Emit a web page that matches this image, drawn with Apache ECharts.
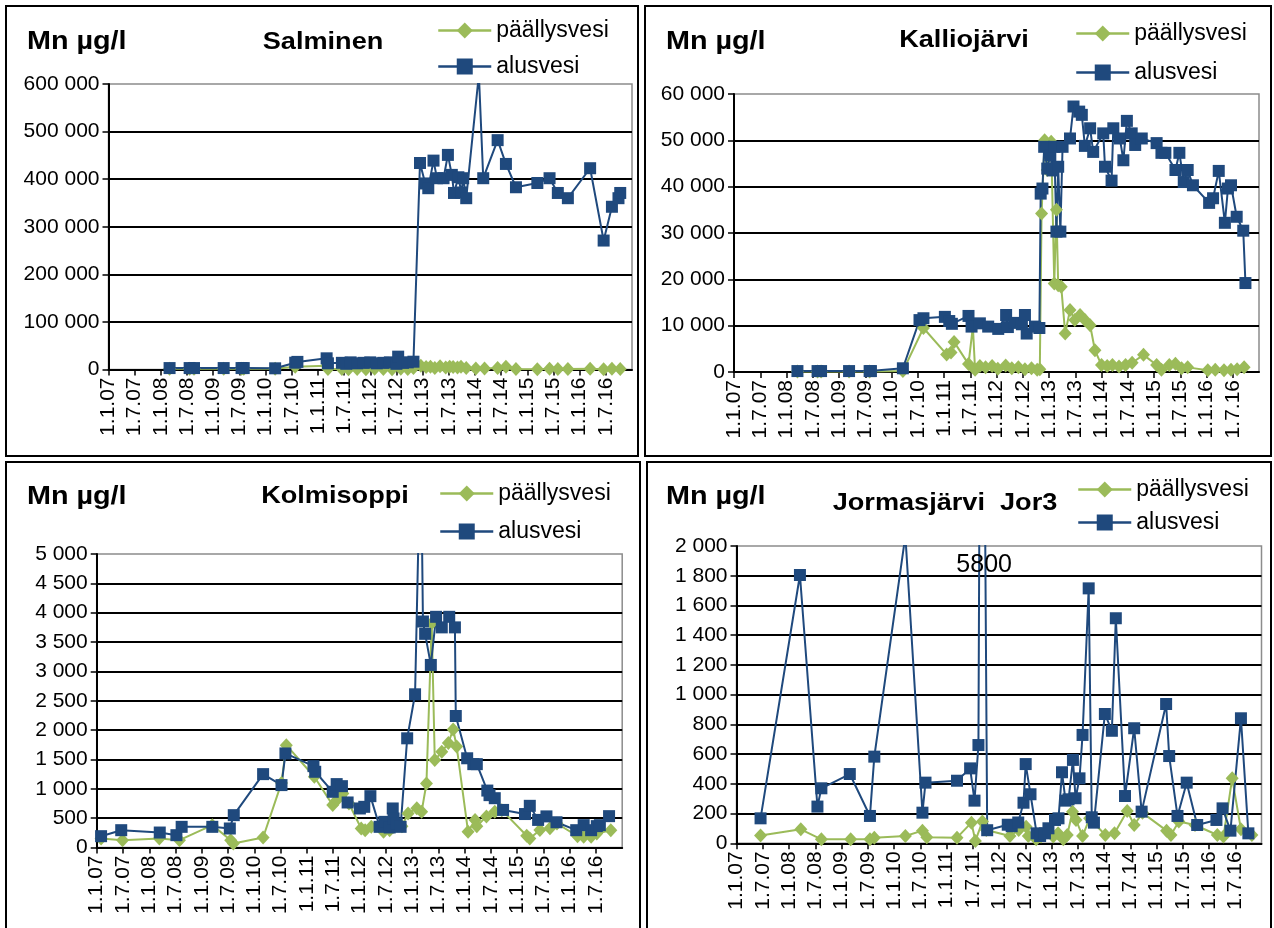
<!DOCTYPE html>
<html>
<head>
<meta charset="utf-8">
<title>Mn µg/l</title>
<script src="https://cdn.jsdelivr.net/npm/echarts@6/dist/echarts.min.js"></script>
<style>
  html, body { margin: 0; padding: 0; background: #fff; }
  #chart { width: 1274px; height: 928px; }
</style>
</head>
<body>
<div id="chart"></div>
<script>
// x-arvot = kuukausia 1.1.2007 jälkeen
const tickLabels = ['1.1.07','1.7.07','1.1.08','1.7.08','1.1.09','1.7.09','1.1.10','1.7.10','1.1.11','1.7.11',
                    '1.1.12','1.7.12','1.1.13','1.7.13','1.1.14','1.7.14','1.1.15','1.7.15','1.1.16','1.7.16']
const seriesNames = ['päällysvesi', 'alusvesi']
const unitLabel = 'Mn µg/l'

// Salminen
const salmAlusT = [14.0, 18.6, 19.6, 26.4, 30.5, 31.0, 38.2, 42.8, 43.3, 50.0, 50.3, 53.5, 54.5, 55.5, 57.0, 58.5, 60.0, 61.5, 63.0, 64.5, 66.0, 66.4, 67.5, 68.6, 69.9,
                   71.4, 72.6, 73.3, 74.5, 75.3, 76.8, 77.8, 78.7, 79.2, 80.2, 80.9, 81.3, 82.0, 84.9, 85.9, 89.2, 91.1, 93.4, 98.3, 101.1, 103.0, 105.3, 110.4, 113.5, 115.4, 116.9, 117.3]
const salmAlusV = [3000, 3000, 3000, 3000, 3000, 3000, 2500, 14300, 16000, 23500, 13000, 14000, 12000, 15000, 13000, 14000, 15000, 13000, 14000, 15000, 12000, 27000, 14000, 15000, 16400,
                   434000, 391000, 381000, 439000, 402000, 402000, 451000, 409000, 371000, 404000, 372000, 402000, 360000, 620000, 402000, 482000, 432000, 383000, 392000, 402000, 371000, 360000, 423000, 271000, 342000, 360000, 371000]
const salmPaalT = [14.0, 18.6, 19.6, 26.4, 30.5, 31.0, 38.2, 42.8, 50.0, 50.3, 53.5, 55.0, 57.0, 59.0, 61.0, 63.0, 65.0, 67.0, 68.6, 69.9, 71.6, 72.8, 73.8, 74.8,
                   76.0, 77.3, 78.2, 79.0, 80.0, 80.8, 82.0, 84.2, 86.2, 89.2, 91.1, 93.4, 98.3, 101.1, 103.0, 105.3, 110.4, 113.5, 115.4, 117.3]
const salmPaalV = [1500, 1500, 1500, 1500, 1500, 1500, 1500, 6000, 8000, 1000, 1000, 500, 1000, 500, 1500, 1000, 500, 1500, 1000, 3000, 8000, 5000, 6000, 3000,
                   7000, 4000, 6000, 5000, 4000, 6000, 3000, 2000, 2000, 3000, 6000, 1000, 500, 1500, 1000, 1000, 1500, 500, 1500, 1000]

// Kalliojärvi
const kallAlusT = [14.5, 19.1, 19.9, 26.3, 31.0, 31.3, 38.6, 42.4, 43.3, 48.2, 49.2, 49.8, 53.6, 54.3, 56.2, 58.1, 60.4, 62.2, 62.6, 64.2, 65.8, 66.5, 66.9, 68.8, 69.8,
                   70.1, 70.5, 70.9, 71.6, 72.3, 72.8, 73.2, 73.7, 74.1, 74.6, 75.1, 76.8, 77.6, 78.9, 79.5, 80.2, 81.4, 82.1, 84.4, 84.8, 86.3, 86.7, 88.2, 89.0, 89.8,
                   90.9, 91.7, 93.2, 96.6, 97.7, 98.6, 100.9, 101.8, 102.8, 103.7, 104.9, 108.6, 109.5, 110.8, 112.2, 112.9, 113.6, 114.9, 116.4, 116.9]
const kallAlusV = [200, 200, 200, 200, 200, 200, 800, 11200, 11600, 11900, 11000, 10400, 12100, 9800, 10500, 9800, 9300, 12300, 9700, 10600, 10300, 12300, 8300, 9800, 9500,
                   38500, 39600, 48600, 43900, 46800, 43500, 48600, 30300, 44300, 30300, 48600, 50400, 57300, 56200, 55500, 48800, 52600, 47500, 51500, 44300, 41300, 52600, 50400, 45700, 54200,
                   51500, 49000, 50400, 49400, 47300, 47300, 43600, 47300, 41000, 43600, 40300, 36500, 37500, 43400, 32200, 39600, 40300, 33500, 30500, 19200]
const kallPaalT = [14.5, 19.1, 19.9, 26.3, 31.0, 38.6, 43.3, 48.6, 49.6, 50.3, 53.6, 54.6, 55.1, 56.2, 57.5, 59.0, 60.3, 62.1, 63.5, 65.0, 66.5, 68.0, 69.3, 69.9,
                   70.3, 71.0, 71.6, 72.5, 73.2, 73.7, 74.1, 74.8, 75.7, 76.8, 77.9, 79.1, 80.2, 81.4, 82.5, 84.0, 85.3, 86.5, 88.0, 89.5, 91.0, 93.6,
                   96.6, 97.7, 99.5, 100.9, 102.3, 103.7, 108.3, 110.0, 112.0, 113.6, 115.0, 116.6]
const kallPaalV = [100, 100, 100, 100, 100, 200, 9500, 3800, 4200, 6500, 1700, 9800, 500, 1300, 1000, 1300, 700, 1400, 800, 1000, 600, 800, 500, 600,
                   34200, 50000, 43600, 49700, 19100, 35000, 18700, 18400, 8300, 13400, 11200, 12300, 11200, 10100, 4700, 1500, 1300, 1500, 1200, 1500, 2000, 3700,
                   1500, 500, 1500, 1800, 800, 1000, 400, 500, 400, 500, 600, 1000]

// Kolmisoppi
const kolmAlusT = [1.0, 5.6, 14.4, 18.2, 19.4, 26.4, 30.4, 31.3, 38.0, 42.2, 43.1, 49.5, 49.9, 53.9, 54.8, 56.0, 57.3, 60.1, 61.1, 62.5, 64.6, 65.7, 66.9, 67.6, 67.8, 68.5, 69.4,
                   70.9, 72.7, 74.0, 74.5, 75.0, 76.3, 77.5, 78.8, 80.5, 81.8, 82.0, 84.6, 86.0, 86.8, 89.2, 89.7, 90.9, 92.8, 97.8, 98.9, 100.8, 102.7, 105.0,
                   109.5, 111.2, 112.9, 114.2, 114.9, 117.0]
const kolmAlusV = [193, 295, 255, 210, 352, 352, 324, 551, 1250, 1063, 1602, 1386, 1290, 949, 1080, 1045, 767, 665, 693, 875, 352, 437, 341, 665, 494, 409, 352,
                   1860, 2610, 7100, 3850, 3640, 3110, 3930, 3750, 3930, 3750, 2240, 1520, 1420, 1420, 970, 892, 840, 640, 570, 710, 470, 530, 430,
                   295, 381, 295, 364, 381, 534]
const kolmPaalT = [1.0, 5.9, 14.3, 18.9, 26.4, 30.6, 31.2, 38.0, 42.2, 43.3, 49.7, 53.9, 54.8, 56.2, 57.6, 60.4, 61.3, 62.7, 65.5, 66.9, 67.8, 69.7,
                   71.1, 73.1, 74.2, 75.3, 76.5, 77.2, 78.8, 80.3, 81.4, 82.2, 84.8, 86.4, 86.8, 89.0, 90.9, 92.5, 98.2, 98.9, 101.2, 103.5, 105.1,
                   109.8, 111.2, 112.9, 114.2, 117.4]
const kolmPaalV = [153, 125, 153, 125, 381, 125, 68, 170, 1100, 1744, 1205, 722, 807, 920, 750, 324, 295, 352, 267, 295, 352, 364,
                   580, 670, 610, 1090, 3820, 1490, 1630, 1780, 2010, 1720, 270, 470, 360, 530, 610, 636, 200, 153, 300, 330, 409,
                   193, 182, 182, 239, 295]

// Jormasjärvi Jor3
const jorAlusT = [5.5, 14.5, 18.5, 19.4, 25.9, 30.5, 31.5, 38.6, 42.5, 43.2, 50.4, 53.4, 54.4, 55.3, 56.0, 57.3, 62.0, 62.9, 64.4, 65.6, 66.1, 67.2, 68.6, 69.4, 70.5, 71.3,
                  72.8, 73.6, 74.4, 75.2, 75.9, 76.9, 77.5, 78.4, 79.1, 80.5, 81.2, 81.7, 84.2, 85.8, 86.7, 88.8, 90.9, 92.6, 98.2, 98.9, 100.8, 102.9, 105.3,
                  109.7, 111.1, 112.9, 115.3, 117.0]
const jorAlusV = [168, 1805, 247, 370, 466, 184, 583, 2070, 206, 408, 421, 504, 287, 661, 5800, 88, 125, 115, 140, 273, 533, 330, 67, 49, 67, 101,
                  157, 168, 478, 287, 296, 561, 303, 437, 729, 1715, 175, 139, 870, 757, 1514, 318, 774, 213, 937, 587, 184, 408, 123,
                  157, 235, 85, 841, 67]
const jorPaalT = [5.5, 14.7, 19.4, 26.1, 30.5, 31.5, 38.6, 42.5, 43.5, 50.4, 53.7, 54.6, 56.2, 57.1, 62.5, 64.5, 66.2, 66.7, 68.5, 69.6, 72.4, 73.5,
                  74.7, 75.6, 76.8, 77.6, 79.1, 80.7, 84.3, 86.4, 89.3, 90.9, 92.8, 98.3, 99.3, 101.1, 104.8, 109.9, 111.3, 113.3, 115.3, 117.8]
const jorPaalV = [52, 94, 27, 27, 27, 38, 49, 85, 40, 38, 139, 16, 146, 90, 49, 90, 112, 49, 27, 45, 45, 67,
                  27, 56, 213, 157, 49, 168, 56, 67, 218, 123, 205, 85, 56, 146, 123, 56, 45, 437, 94, 56]
const jorPeakText = '5800'

const GREEN = '#9BBB59'
const BLUE = '#1F497D'
const FONT = "'Liberation Sans', Arial, sans-serif"

// paneelien asettelu
const panels = [
    { title: 'Salminen', titleX: 323, titleY: 42, unitX: 27, unitY: 42,
      grid: { left: 108.5, top: 84, width: 523.5, height: 285.5 }, yMax: 600000, yStep: 100000,
      legend: { left: 437, top: 19, itemGap: 13 }, box: [6, 6, 632, 450],
      paal: [salmPaalT, salmPaalV], alus: [salmAlusT, salmAlusV] },
    { title: 'Kalliojärvi', titleX: 964, titleY: 40, unitX: 666, unitY: 42,
      grid: { left: 734, top: 94, width: 525, height: 278 }, yMax: 60000, yStep: 10000,
      legend: { left: 1075, top: 22, itemGap: 16 }, box: [645, 6, 626, 450],
      paal: [kallPaalT, kallPaalV], alus: [kallAlusT, kallAlusV] },
    { title: 'Kolmisoppi', titleX: 335, titleY: 496, unitX: 27, unitY: 497,
      grid: { left: 96.7, top: 554, width: 525.5, height: 293.5 }, yMax: 5000, yStep: 500,
      legend: { left: 439, top: 482, itemGap: 15 }, box: [6, 462, 634, 480],
      paal: [kolmPaalT, kolmPaalV], alus: [kolmAlusT, kolmAlusV] },
    { title: 'Jormasjärvi  Jor3', titleX: 945, titleY: 503, unitX: 666, unitY: 497,
      grid: { left: 736.5, top: 546, width: 525, height: 297.3 }, yMax: 2000, yStep: 200,
      legend: { left: 1077, top: 478, itemGap: 10 }, box: [647, 462, 624, 480],
      paal: [jorPaalT, jorPaalV], alus: [jorAlusT, jorAlusV] }
]

const pairs = (t, v) => t.map((x, i) => [x, v[i]])
const spaced = v => String(v).replace(/\B(?=(\d{3})+(?!\d))/g, ' ')

const chartInstance = echarts.init(document.getElementById('chart'), null, { renderer: 'canvas' })

const grids = [], xAxes = [], yAxes = [], series = [], legends = [], graphics = []

panels.forEach((p, i) => {
    grids.push(Object.assign({
        show: true, borderColor: '#8c8c8c', borderWidth: 1.5, backgroundColor: '#fff',
        containLabel: false, outerBoundsMode: 'none'
    }, p.grid))
    xAxes.push({
        type: 'value', gridIndex: i, min: 0, max: 120, interval: 6,
        axisLine: { show: true, onZero: false, lineStyle: { color: '#000', width: 2 } },
        axisTick: { show: true, inside: false, length: 6, lineStyle: { color: '#000', width: 1.5 } },
        axisLabel: {
            rotate: 90, margin: 8, fontSize: 21, fontFamily: FONT, color: '#000',
            showMaxLabel: false,
            formatter: v => tickLabels[v / 6] || ''
        },
        splitLine: { show: false }
    })
    yAxes.push({
        type: 'value', gridIndex: i, min: 0, max: p.yMax, interval: p.yStep,
        axisLine: { show: true, lineStyle: { color: '#000', width: 2 } },
        axisTick: { show: true, inside: false, length: 6, lineStyle: { color: '#000', width: 1.5 } },
        axisLabel: { margin: 9, fontSize: 21, fontFamily: FONT, color: '#000', formatter: spaced },
        splitLine: { show: true, showMaxLine: false, lineStyle: { color: '#000', width: 2 } }
    })
    series.push({
        name: seriesNames[0], type: 'line', xAxisIndex: i, yAxisIndex: i,
        data: pairs(p.paal[0], p.paal[1]),
        symbol: 'diamond', symbolSize: [13, 14], clip: true,
        lineStyle: { color: GREEN, width: 2 }, itemStyle: { color: GREEN },
        emphasis: { disabled: true }
    })
    const alus = {
        name: seriesNames[1], type: 'line', xAxisIndex: i, yAxisIndex: i,
        data: pairs(p.alus[0], p.alus[1]),
        symbol: 'rect', symbolSize: 12, clip: true,
        lineStyle: { color: BLUE, width: 2 }, itemStyle: { color: BLUE },
        emphasis: { disabled: true }
    }
    if (i === 3) {
        // huippuarvo leikkautuu pois, arvo tekstinä
        alus.markPoint = {
            symbol: 'circle', symbolSize: 0, silent: true,
            label: { show: true, position: 'inside', fontSize: 25, fontFamily: FONT, color: '#000', formatter: jorPeakText },
            data: [{ coord: [56.6, 1872] }]
        }
    }
    series.push(alus)
    legends.push({
        orient: 'vertical', left: p.legend.left, top: p.legend.top, itemGap: p.legend.itemGap,
        padding: 0, itemWidth: 53, itemHeight: 20, data: seriesNames, selectedMode: false,
        lineStyle: { width: 2.5 },
        textStyle: { fontSize: 23, fontFamily: FONT, color: '#000' }
    })
    graphics.push({
        type: 'rect', shape: { x: p.box[0], y: p.box[1], width: p.box[2], height: p.box[3] },
        style: { fill: null, stroke: '#000', lineWidth: 2 }, z: -10, silent: true
    })
    graphics.push({
        type: 'text', x: p.unitX, y: p.unitY, scaleX: 1.15,
        style: { text: unitLabel, font: 'bold 25px ' + FONT, fill: '#000', textAlign: 'left', textVerticalAlign: 'middle' }
    })
    graphics.push({
        type: 'text', x: p.titleX, y: p.titleY, scaleX: 1.13,
        style: { text: p.title, font: 'bold 24px ' + FONT, fill: '#000', textAlign: 'center', textVerticalAlign: 'middle' }
    })
})

chartInstance.setOption({
    animation: false,
    backgroundColor: '#fff',
    grid: grids,
    xAxis: xAxes,
    yAxis: yAxes,
    legend: legends,
    graphic: graphics,
    series: series
})
</script>
</body>
</html>
